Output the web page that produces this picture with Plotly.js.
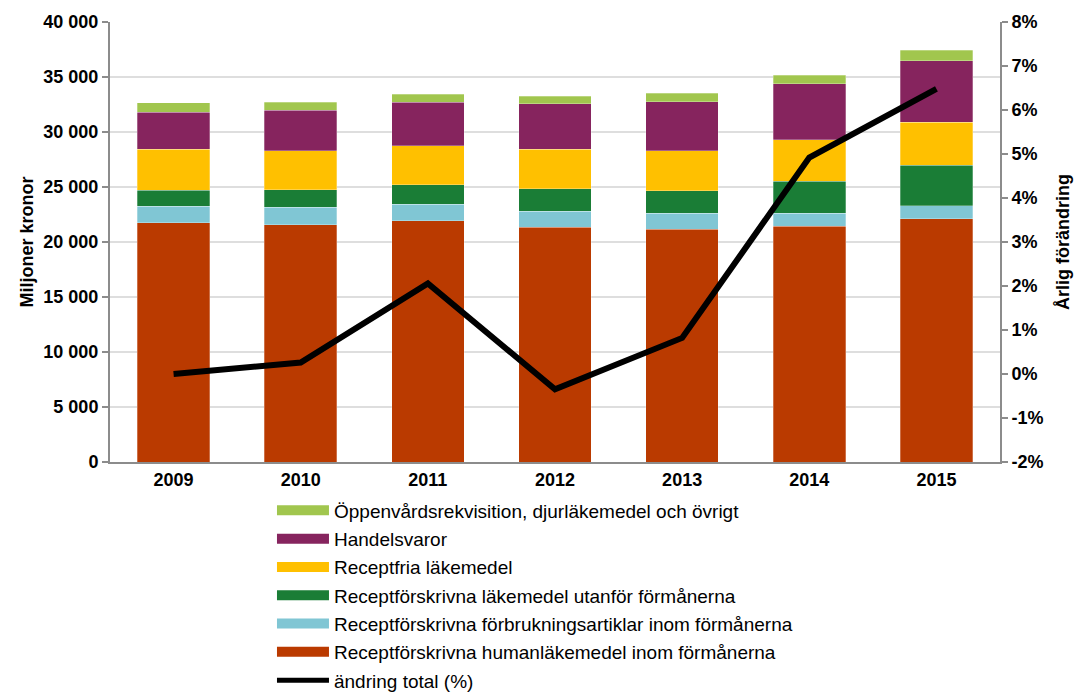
<!DOCTYPE html>
<html>
<head>
<meta charset="utf-8">
<script src="https://cdn.plot.ly/plotly-3.0.1.min.js"></script>
<style>html,body{margin:0;padding:0;background:#fff;}#chart{width:1080px;height:695px;}</style>
</head>
<body>
<div id="chart"></div>
<script>
const years = ['2009', '2010', '2011', '2012', '2013', '2014', '2015'];
const humanlakemedel = [21755, 21576, 21939, 21364, 21182, 21424, 22121];
const forbrukningsartiklar = [1490, 1576, 1516, 1454, 1424, 1212, 1182];
const utanforFormanerna = [1455, 1606, 1757, 2030, 2061, 2909, 3667];
const receptfria = [3727, 3545, 3546, 3576, 3636, 3758, 3909];
const handelsvaror = [3364, 3667, 3939, 4152, 4455, 5091, 5606];
const ovrigt = [873, 757, 758, 697, 787, 788, 970];
const andringTotal = [0.0, 0.26, 2.06, -0.35, 0.82, 4.92, 6.48];

const leftTickVals = [0, 5000, 10000, 15000, 20000, 25000, 30000, 35000, 40000];
const leftTickText = ['0', '5 000', '10 000', '15 000', '20 000', '25 000', '30 000', '35 000', '40 000'];
const rightTickVals = [-2, -1, 0, 1, 2, 3, 4, 5, 6, 7, 8];
const rightTickText = ['-2%', '-1%', '0%', '1%', '2%', '3%', '4%', '5%', '6%', '7%', '8%'];

const seriesNames = [
  'Receptförskrivna humanläkemedel inom förmånerna',
  'Receptförskrivna förbrukningsartiklar inom förmånerna',
  'Receptförskrivna läkemedel utanför förmånerna',
  'Receptfria läkemedel',
  'Handelsvaror',
  'Öppenvårdsrekvisition, djurläkemedel och övrigt'
];
const seriesValues = [humanlakemedel, forbrukningsartiklar, utanforFormanerna, receptfria, handelsvaror, ovrigt];
const colors = ['#BA3A00', '#80C6D4', '#1A7D36', '#FFC000', '#86245E', '#A1C64E'];
const lineName = 'ändring total (%)';

const traces = [];
seriesValues.forEach((vals, i) => {
  traces.push({
    type: 'bar', x: years, y: vals, name: seriesNames[i],
    marker: {color: colors[i], line: {color: 'rgba(255,255,255,0.35)', width: 0.8}},
    showlegend: false, hoverinfo: 'x+y+name'
  });
});
traces.push({
  type: 'scatter', mode: 'lines', x: years, y: andringTotal, yaxis: 'y2',
  name: lineName, line: {color: '#000', width: 6}, showlegend: false
});
// legend entries (wide swatches)
for (let i = seriesNames.length - 1; i >= 0; i--) {
  traces.push({
    type: 'scatter', mode: 'lines', x: [null], y: [null], name: seriesNames[i],
    legendgroup: 'g' + i,
    line: {color: colors[i], width: 12}, hoverinfo: 'skip', showlegend: true
  });
}
traces.push({
  type: 'scatter', mode: 'lines', x: [null], y: [null], yaxis: 'y2', name: lineName,
  legendgroup: 'gline',
  line: {color: '#000', width: 5}, hoverinfo: 'skip', showlegend: true
});

const fam = 'Liberation Sans, Arial, sans-serif';
const tickFont = {family: fam, size: 18, color: '#000', weight: 'bold'};
const layout = {
  width: 1080, height: 695,
  margin: {l: 110, r: 80, t: 22, b: 233, autoexpand: false},
  paper_bgcolor: '#fff', plot_bgcolor: '#fff',
  barmode: 'stack', bargap: 0.43,
  font: {family: fam, color: '#000'},
  showlegend: true,
  legend: {
    x: 0.182, xanchor: 'left', y: -0.067, yanchor: 'top',
    font: {family: fam, size: 19, color: '#000'},
    itemwidth: 52, tracegroupgap: 0.6, traceorder: 'grouped',
    bgcolor: 'rgba(0,0,0,0)'
  },
  xaxis: {
    type: 'category', showline: true, linecolor: '#8c8c8c', linewidth: 2,
    ticks: '', tickfont: tickFont,
    showgrid: false, zeroline: false, fixedrange: true
  },
  yaxis: {
    range: [0, 40000], tickvals: leftTickVals, ticktext: leftTickText,
    showline: true, linecolor: '#8c8c8c', linewidth: 2,
    ticks: 'outside', ticklen: 6, tickcolor: '#8c8c8c', tickwidth: 1.5,
    showgrid: true, gridcolor: '#dedede', gridwidth: 1.5, zeroline: false,
    tickfont: tickFont,
    title: {text: 'Miljoner kronor', font: {family: fam, size: 18, color: '#000', weight: 'bold'}, standoff: 5}
  },
  yaxis2: {
    overlaying: 'y', side: 'right', range: [-2, 8],
    tickvals: rightTickVals, ticktext: rightTickText,
    showline: true, linecolor: '#8c8c8c', linewidth: 2,
    ticks: 'outside', ticklen: 6, tickcolor: '#8c8c8c', tickwidth: 1.5,
    showgrid: false, zeroline: false,
    tickfont: tickFont,
    title: {text: 'Årlig förändring', font: {family: fam, size: 18, color: '#000', weight: 'bold'}, standoff: 14}
  }
};

Plotly.newPlot('chart', traces, layout, {displayModeBar: false, staticPlot: true});
</script>
</body>
</html>
